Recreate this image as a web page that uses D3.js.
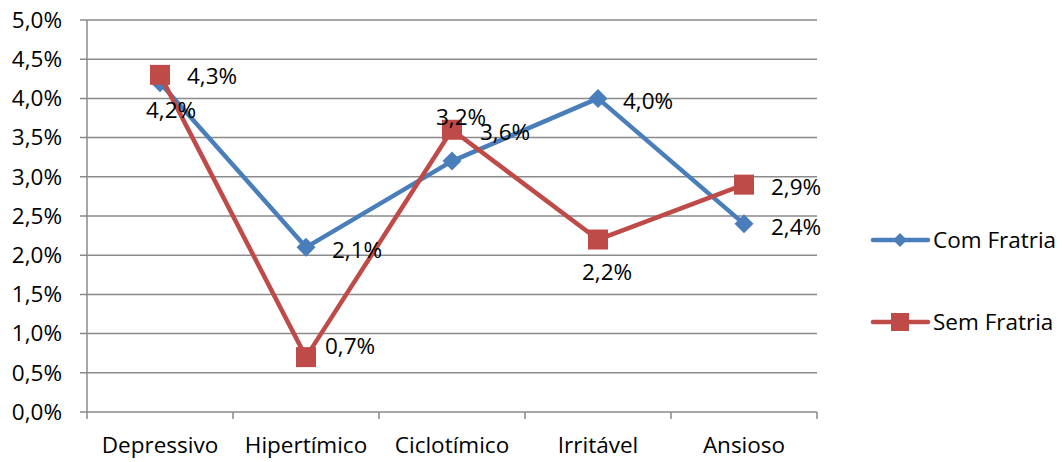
<html lang='por'>
    <head>
        <meta charset="utf-8">
        <title>Temperamento</title>
        <script src="https://d3js.org/d3.v7.min.js" charset="utf-8"></script>
        <style>
        body{
          margin: 0;
          background: #fff;
          font-family: "Open Sans", sans-serif;
        }
        text {
          font-size: 22.5px;
          fill: #000;
        }
        </style>
    </head>
    <body>
        <script>
            // data
            var categories = ["Depressivo", "Hipertímico", "Ciclotímico", "Irritável", "Ansioso"]
            var comFratria = [0.042, 0.021, 0.032, 0.040, 0.024]
            var semFratria = [0.043, 0.007, 0.036, 0.022, 0.029]
            var seriesNames = ["Com Fratria", "Sem Fratria"]
            var yTicks = [0, 0.005, 0.01, 0.015, 0.02, 0.025, 0.03, 0.035, 0.04, 0.045, 0.05]

            // label nudges (layout only), [dx, dy] from each point
            var comOffsets = [[-14, 27], [26, 3], [-16, -44], [25, 3], [27, 3]]
            var semOffsets = [[27, 1], [19, -11], [28, 2], [-16, 33], [27, 2]]

            var width = 1062
            var height = 462
            var plotLeft = 87, plotRight = 817, plotTop = 20, plotBottom = 412

            var blue = "#4a7ebb"
            var red = "#be4b48"
            var grid = "#8a8a8a"

            var svg = d3.select("body")
                        .append("svg")
                        .attr("width", width)
                        .attr("height", height);

            var x = d3.scaleBand()
                      .domain(categories)
                      .range([plotLeft, plotRight]);

            var y = d3.scaleLinear()
                      .domain([0, 0.05])
                      .range([plotBottom, plotTop]);

            var fmt = function(v){ return (v * 100).toFixed(1).replace(".", ",") + "%"; }
            var cx = function(i){ return x(categories[i]) + x.bandwidth() / 2; }

            // gridlines
            svg.append("g")
               .selectAll("line")
               .data(yTicks)
               .enter().append("line")
               .attr("x1", plotLeft - 7)
               .attr("x2", plotRight)
               .attr("y1", function(d){ return y(d); })
               .attr("y2", function(d){ return y(d); })
               .attr("stroke", grid)
               .attr("stroke-width", 1.5);

            // y axis line
            svg.append("line")
               .attr("x1", plotLeft).attr("x2", plotLeft)
               .attr("y1", plotTop).attr("y2", plotBottom)
               .attr("stroke", grid)
               .attr("stroke-width", 1.5);

            // x ticks at band edges
            var edges = categories.map(function(c){ return x(c); }).concat([plotRight]);
            svg.append("g")
               .selectAll("line")
               .data(edges)
               .enter().append("line")
               .attr("x1", function(d){ return d; })
               .attr("x2", function(d){ return d; })
               .attr("y1", plotBottom)
               .attr("y2", plotBottom + 7)
               .attr("stroke", grid)
               .attr("stroke-width", 1.5);

            // y tick labels
            svg.append("g")
               .selectAll("text")
               .data(yTicks)
               .enter().append("text")
               .attr("x", 62)
               .attr("y", function(d){ return y(d); })
               .attr("dy", "0.35em")
               .attr("text-anchor", "end")
               .text(fmt);

            // x labels
            svg.append("g")
               .selectAll("text")
               .data(categories)
               .enter().append("text")
               .attr("x", function(d){ return x(d) + x.bandwidth() / 2; })
               .attr("y", 445)
               .attr("dy", "0.35em")
               .attr("text-anchor", "middle")
               .text(function(d){ return d; });

            var line = d3.line()
                         .x(function(d, i){ return cx(i); })
                         .y(function(d){ return y(d); });

            function diamond(sel, s){
              sel.attr("points", function(){
                return [[0, -s], [s, 0], [0, s], [-s, 0]].join(" ");
              });
            }

            // Com Fratria
            svg.append("path")
               .datum(comFratria)
               .attr("d", line)
               .attr("fill", "none")
               .attr("stroke", blue)
               .attr("stroke-width", 4.5)
               .attr("stroke-linejoin", "round");

            svg.append("g")
               .selectAll("polygon")
               .data(comFratria)
               .enter().append("polygon")
               .attr("transform", function(d, i){ return "translate(" + cx(i) + "," + y(d) + ")"; })
               .call(diamond, 9.5)
               .attr("fill", blue);

            // Sem Fratria
            svg.append("path")
               .datum(semFratria)
               .attr("d", line)
               .attr("fill", "none")
               .attr("stroke", red)
               .attr("stroke-width", 4.5)
               .attr("stroke-linejoin", "round");

            svg.append("g")
               .selectAll("rect")
               .data(semFratria)
               .enter().append("rect")
               .attr("x", function(d, i){ return cx(i) - 10; })
               .attr("y", function(d){ return y(d) - 10; })
               .attr("width", 20)
               .attr("height", 20)
               .attr("fill", red);

            // data labels
            svg.append("g")
               .selectAll("text")
               .data(comFratria)
               .enter().append("text")
               .attr("x", function(d, i){ return cx(i) + comOffsets[i][0]; })
               .attr("y", function(d, i){ return y(d) + comOffsets[i][1]; })
               .attr("dy", "0.35em")
               .text(fmt);

            svg.append("g")
               .selectAll("text")
               .data(semFratria)
               .enter().append("text")
               .attr("x", function(d, i){ return cx(i) + semOffsets[i][0]; })
               .attr("y", function(d, i){ return y(d) + semOffsets[i][1]; })
               .attr("dy", "0.35em")
               .text(fmt);

            // legend
            var legend = svg.append("g")
                            .attr("transform", "translate(873,0)");

            var items = legend.selectAll("g")
                              .data(seriesNames)
                              .enter().append("g")
                              .attr("transform", function(d, i){ return "translate(0," + (240 + i * 82) + ")"; });

            items.append("line")
                 .attr("x1", 0).attr("x2", 55)
                 .attr("stroke", function(d, i){ return i ? red : blue; })
                 .attr("stroke-width", 4.5)
                 .attr("stroke-linecap", "round");

            items.filter(function(d, i){ return i == 0; })
                 .append("polygon")
                 .attr("transform", "translate(27,0)")
                 .call(diamond, 7)
                 .attr("fill", blue);

            items.filter(function(d, i){ return i == 1; })
                 .append("rect")
                 .attr("x", 18).attr("y", -9)
                 .attr("width", 18).attr("height", 18)
                 .attr("fill", red);

            items.append("text")
                 .attr("x", 60)
                 .attr("dy", "0.35em")
                 .text(function(d){ return d; });
        </script>
    </body>
</html>
